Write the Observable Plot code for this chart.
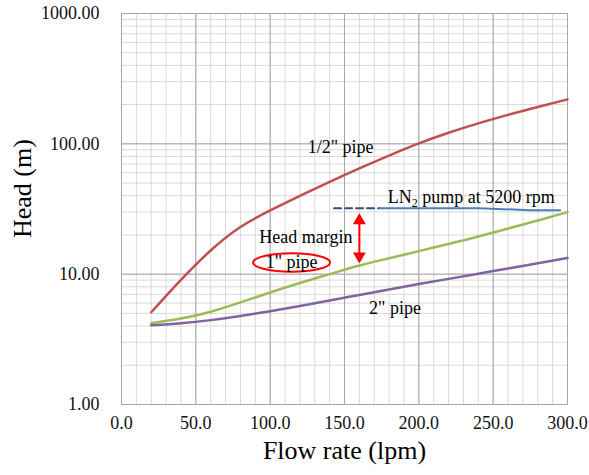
<!DOCTYPE html>
<html><head><meta charset="utf-8">
<script src="https://cdn.jsdelivr.net/npm/d3@7"></script>
<script src="https://cdn.jsdelivr.net/npm/@observablehq/plot@0.6"></script>
<style>
body{margin:0;background:#fff}
svg text{font-family:'Liberation Serif','Times New Roman',serif}
</style>
</head><body><div id="chart"></div>
<script>
// ---- data ----
const flow      = [20, 40, 60, 80, 100, 120, 140, 160, 180, 200, 220, 240, 260, 280, 300];
const halfInch  = [5.1, 9.04, 15.2, 23.0, 30.8, 39.8, 51.1, 64.9, 81.3, 100.7, 121.6, 143.5, 166.7, 191.9, 219.3];
const oneInch   = [4.2, 4.57, 5.15, 6.07, 7.24, 8.55, 10.0, 11.64, 13.24, 15.03, 17.06, 19.45, 22.39, 25.82, 29.92];
const twoInch   = [4.06, 4.2, 4.44, 4.78, 5.2, 5.7, 6.28, 6.93, 7.64, 8.39, 9.2, 10.09, 11.07, 12.13, 13.3];

const pumpDashFlow  = [143, 173.5];
const pumpDashHead  = [32.1, 32.1];
const pumpSolidFlow = [173.5, 240, 275, 295];
const pumpSolidHead = [32.1, 32.0, 31.0, 30.9];

const marginArrow = [{flow: 160, top: 29.4, bottom: 12.1}];

const xTicks = [0, 50, 100, 150, 200, 250, 300];
const yTicks = [1, 10, 100, 1000];
const xTickLabels = ["0.0", "50.0", "100.0", "150.0", "200.0", "250.0", "300.0"];
const yTickLabels = ["1.00", "10.00", "100.00", "1000.00"];

const labels = [
  {text: "1/2\" pipe", flow: 147.4, head: 94.2},
  {text: "Head margin", flow: 124, head: 19.1},
  {text: "1\" pipe", flow: 114.4, head: 12.3},
  {text: "LN2 pump at 5200 rpm", flow: 235.3, head: 38.9},
  {text: "2\" pipe", flow: 184, head: 5.45}
];
const circled = [{flow: 114.4, head: 12.3}];

// ---- build ----
const toRows = (ys, xs = flow) => xs.map((x, i) => ({flow: x, head: ys[i]}));
const xMinor = d3.range(0, 301, 10);
const yMinor = d3.scaleLog().domain([1, 1000]).ticks();

const ellipse = {draw(ctx) {
  const rx = 38.5, ry = 9.2, k = 0.5523;
  ctx.moveTo(rx, 0);
  ctx.bezierCurveTo(rx, ry * k, rx * k, ry, 0, ry);
  ctx.bezierCurveTo(-rx * k, ry, -rx, ry * k, -rx, 0);
  ctx.bezierCurveTo(-rx, -ry * k, -rx * k, -ry, 0, -ry);
  ctx.bezierCurveTo(rx * k, -ry, rx, -ry * k, rx, 0);
  ctx.closePath();
}};
const tipUp = {draw(ctx) { ctx.moveTo(0, 0); ctx.lineTo(6.5, 11); ctx.lineTo(-6.5, 11); ctx.closePath(); }};
const tipDown = {draw(ctx) { ctx.moveTo(0, 0); ctx.lineTo(6.5, -11); ctx.lineTo(-6.5, -11); ctx.closePath(); }};

const serif = "'Liberation Serif', 'Times New Roman', serif";

const chart = Plot.plot({
  width: 589, height: 475,
  marginLeft: 121, marginRight: 22, marginTop: 13, marginBottom: 71,
  style: {fontFamily: serif, background: "#fff", color: "#000"},
  x: {domain: [0, 300], axis: null},
  y: {type: "log", domain: [1, 1000], axis: null},
  marks: [
    Plot.gridX(xMinor, {stroke: "#d9d9d9", strokeOpacity: 1}),
    Plot.gridY(yMinor, {stroke: "#d9d9d9", strokeOpacity: 1}),
    Plot.gridX(xTicks, {stroke: "#a6a6a6", strokeOpacity: 1}),
    Plot.gridY(yTicks, {stroke: "#a6a6a6", strokeOpacity: 1}),
    Plot.frame({stroke: "#a6a6a6"}),
    Plot.text(xTicks, {x: d => d, frameAnchor: "bottom", dy: 24, text: (d, i) => xTickLabels[i], fontSize: 18, fontFamily: serif, fill: "#111"}),
    Plot.text(yTicks, {y: d => d, frameAnchor: "left", dx: -22, textAnchor: "end", text: (d, i) => yTickLabels[i], fontSize: 18, fontFamily: serif, fill: "#111"}),
    Plot.text(["Flow rate (lpm)"], {frameAnchor: "bottom", dy: 54, fontSize: 26, fontFamily: serif}),
    Plot.text(["Head (m)"], {frameAnchor: "left", dx: -99, dy: 29, rotate: -90, fontSize: 26, fontFamily: serif}),
    Plot.line(toRows(halfInch), {x: "flow", y: "head", stroke: "#C0504D", strokeWidth: 2.5, curve: "natural"}),
    Plot.line(toRows(oneInch), {x: "flow", y: "head", stroke: "#9BBB59", strokeWidth: 2.5, curve: "natural"}),
    Plot.line(toRows(twoInch), {x: "flow", y: "head", stroke: "#8064A2", strokeWidth: 2.5, curve: "natural"}),
    Plot.line(toRows(pumpDashHead, pumpDashFlow), {x: "flow", y: "head", stroke: "#2C4D86", strokeWidth: 2, strokeDasharray: "7,4"}),
    Plot.line(toRows(pumpSolidHead, pumpSolidFlow), {x: "flow", y: "head", stroke: "#4A7EBB", strokeWidth: 2}),
    Plot.ruleX(marginArrow, {x: "flow", y1: "top", y2: "bottom", insetTop: 8, insetBottom: 8, stroke: "#FF0000", strokeWidth: 2}),
    Plot.dot(marginArrow, {x: "flow", y: "top", symbol: tipUp, fill: "#FF0000", stroke: null}),
    Plot.dot(marginArrow, {x: "flow", y: "bottom", symbol: tipDown, fill: "#FF0000", stroke: null}),
    Plot.dot(circled, {x: "flow", y: "head", symbol: ellipse, fill: "none", stroke: "#FF0000", strokeWidth: 2}),
    Plot.text(labels, {x: "flow", y: "head", text: "text", fontSize: 18, fill: "#000", fontFamily: serif})
  ]
});

// subscript for LN2
d3.select(chart).selectAll("text").filter(function() { return this.textContent === "LN2 pump at 5200 rpm"; })
  .each(function() {
    const t = d3.select(this);
    t.text(null);
    t.append("tspan").text("LN");
    t.append("tspan").attr("dy", 4).attr("font-size", 12).text("2");
    t.append("tspan").attr("dy", -4).text(" pump at 5200 rpm");
  });

document.getElementById("chart").appendChild(chart);
</script>
</body></html>
